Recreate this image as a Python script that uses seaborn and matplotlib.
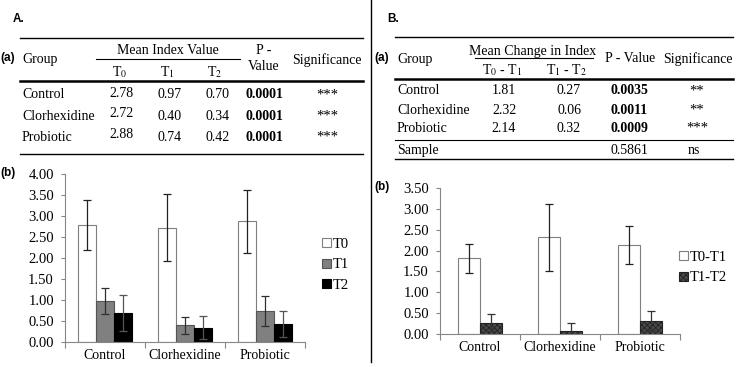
import numpy as np
import pandas as pd
import matplotlib
matplotlib.use('Agg')
import matplotlib.pyplot as plt
import seaborn as sns
from matplotlib.lines import Line2D
from matplotlib.patches import Patch

# ------------------------------- data -------------------------------
groups = ['Control', 'Clorhexidine', 'Probiotic']

# A: mean index value at each time point
times = ['T0', 'T1', 'T2']
mean_t0 = [2.78, 2.72, 2.88]
mean_t1 = [0.97, 0.40, 0.74]
mean_t2 = [0.70, 0.34, 0.42]
err_t0 = [0.60, 0.80, 0.75]
err_t1 = [0.31, 0.20, 0.35]
err_t2 = [0.43, 0.27, 0.31]
p_values_a = ['0.0001', '0.0001', '0.0001']
signif_a = ['***', '***', '***']

# B: mean change in index
changes = ['T0-T1', 'T1-T2']
change_01 = [1.81, 2.32, 2.14]
change_12 = [0.27, 0.06, 0.32]
err_01 = [0.35, 0.80, 0.46]
err_12 = [0.20, 0.20, 0.23]
p_values_b = ['0.0035', '0.0011', '0.0009']
signif_b = ['**', '**', '***']
sample_p = '0.5861'
sample_sig = 'ns'

# ------------------------------- setup ------------------------------
plt.rcParams['font.family'] = ['Liberation Serif', 'DejaVu Serif']
plt.rcParams['mathtext.fontset'] = 'stix'
plt.rcParams['hatch.linewidth'] = 0.6

W, H = 738, 367
fig = plt.figure(figsize=(W / 100, H / 100), dpi=100)
fig.patch.set_facecolor('white')


def fx(x):
    return x / W


def fy(y):
    return 1 - y / H


def put(x, y, s, ha='center', size=10, **kw):
    fig.text(fx(x), fy(y), s, ha=ha, va='center', fontsize=size, **kw)


def label(x, y, s):
    fig.text(fx(x), fy(y), s, ha='left', va='center', fontsize=8.5,
             fontweight='bold', family=['Liberation Sans', 'DejaVu Sans'])


def rule(x0, x1, y, lw=0.8):
    fig.add_artist(Line2D([fx(x0), fx(x1)], [fy(y), fy(y)], color='black', lw=lw))


def bar_panel(ax, names, values, errs, fills, edges, ecolors, hatches, width, yticks):
    df = pd.DataFrame({
        'group': groups * len(names),
        'series': [n for n in names for _ in groups],
        'value': [v for vals in values for v in vals],
    })
    sns.barplot(data=df, x='group', y='value', hue='series', palette=fills,
                width=width, errorbar=None, legend=False, saturation=1, ax=ax)
    for cont, vals, err, edge, ec, hatch in zip(ax.containers, values, errs,
                                                 edges, ecolors, hatches):
        xs = []
        for p in cont:
            p.set_edgecolor(edge)
            p.set_linewidth(0.8)
            if hatch:
                p.set_hatch(hatch)
            xs.append(p.get_x() + p.get_width() / 2)
        ax.errorbar(xs, vals, yerr=err, fmt='none', ecolor=ec,
                    elinewidth=0.9, capsize=3.2, capthick=0.9, zorder=5)

    ax.set_xlim(-0.5, 2.5)
    ax.set_ylim(yticks[0], yticks[-1])
    ax.set_yticks(yticks)
    ax.yaxis.set_major_formatter('{x:.2f}')
    ax.set_xticks([-0.5, 0.5, 1.5, 2.5])
    ax.set_xticklabels([])
    ax.set_xticks([0, 1, 2], minor=True)
    ax.set_xticklabels(groups, minor=True)
    ax.tick_params(axis='x', which='minor', length=0, pad=5, labelsize=10)
    ax.tick_params(axis='x', which='major', length=4, color='#868686')
    ax.tick_params(axis='y', length=3, color='#868686', pad=5, labelsize=10.5)
    ax.set_xlabel('')
    ax.set_ylabel('')
    ax.set_facecolor('white')
    for side in ['top', 'right']:
        ax.spines[side].set_visible(False)
    for side in ['left', 'bottom']:
        ax.spines[side].set_color('#868686')
        ax.spines[side].set_linewidth(0.8)

    handles = [Patch(facecolor=f, edgecolor=e, hatch=h, lw=0.8)
               for f, e, h in zip(fills, edges, hatches)]
    return handles


# ------------------------------ panel A -----------------------------
label(13, 19, 'A.')
label(0, 58, '(a)')
rule(20, 363, 38, lw=1.0)
put(22, 60, 'Group', ha='left')
put(168, 51, 'Mean Index Value')
rule(96, 240, 58.5, lw=0.8)
put(264, 51, 'P -')
put(264, 67, 'Value')
put(327, 60, 'Significance')
for x, t in zip([120, 167, 215], times):
    put(x, 72, t[0] + r'$_{\mathrm{' + t[1] + '}}$')
rule(20, 363, 80.5, lw=1.8)
for y, g, a, b, c, p, s in zip([95, 116, 137], groups, mean_t0, mean_t1,
                               mean_t2, p_values_a, signif_a):
    put(22, y, g, ha='left')
    put(121, y - 2, f'{a:.2f}')
    put(170, y, f'{b:.2f}')
    put(218, y, f'{c:.2f}')
    put(264, y, p, fontweight='bold')
    put(327, y, s, size=10.5)
rule(20, 363, 154, lw=1.0)

label(0, 173, '(b)')
ax_a = fig.add_axes([fx(65), fy(342), 240 / W, 168 / H])
handles_a = bar_panel(
    ax_a, times, [mean_t0, mean_t1, mean_t2], [err_t0, err_t1, err_t2],
    fills=['white', '#808080', 'black'],
    edges=['#7f7f7f', '#555555', 'black'],
    ecolors=['#222222', '#303030', '#555555'],
    hatches=[None, None, None], width=0.68,
    yticks=np.arange(0, 4.01, 0.5))
fig.legend(handles_a, times, loc='upper left',
           bbox_to_anchor=(fx(322), fy(238)), frameon=False, fontsize=10.5,
           handlelength=0.6, handleheight=0.6, handletextpad=0.15,
           labelspacing=0.5, borderaxespad=0, borderpad=0)

# separator
fig.add_artist(Line2D([fx(371), fx(371)], [fy(0), fy(362)], color='black', lw=1.0))

# ------------------------------ panel B -----------------------------
label(387, 19, 'B.')
label(374, 58, '(a)')
rule(395, 733, 37, lw=1.0)
put(397, 59, 'Group', ha='left')
put(533, 51, 'Mean Change in Index')
rule(475, 593, 57.5, lw=0.8)
put(502, 70, r'T$_{\mathrm{0}}$ - T$_{\mathrm{1}}$')
put(567, 70, r'T$_{\mathrm{1}}$ - T$_{\mathrm{2}}$')
put(630, 59, 'P - Value')
put(698, 59, 'Significance')
rule(395, 733, 79, lw=1.8)
for y, g, a, b, p, s in zip([91, 110, 128], groups, change_01, change_12,
                            p_values_b, signif_b):
    put(397, y, g, ha='left')
    put(504, y, f'{a:.2f}')
    put(569, y, f'{b:.2f}')
    put(629, y, p, fontweight='bold')
    put(697, y, s, size=10.5)
rule(395, 733, 140, lw=0.8)
put(397, 150, 'Sample', ha='left')
put(629, 150, sample_p)
put(694, 150, sample_sig)
rule(395, 733, 158.5, lw=1.0)

label(374, 187, '(b)')
ax_b = fig.add_axes([fx(440), fy(334), 240 / W, 146 / H])
handles_b = bar_panel(
    ax_b, changes, [change_01, change_12], [err_01, err_12],
    fills=['white', '#4a4a4a'],
    edges=['#7f7f7f', '#222222'],
    ecolors=['#222222', '#333333'],
    hatches=[None, 'xxxxxx'], width=0.54,
    yticks=np.arange(0, 3.51, 0.5))
fig.legend(handles_b, changes, loc='upper left',
           bbox_to_anchor=(fx(679), fy(251)), frameon=False, fontsize=10.5,
           handlelength=0.6, handleheight=0.6, handletextpad=0.15,
           labelspacing=0.5, borderaxespad=0, borderpad=0)

fig.savefig('out.png', dpi=100, facecolor='white')
